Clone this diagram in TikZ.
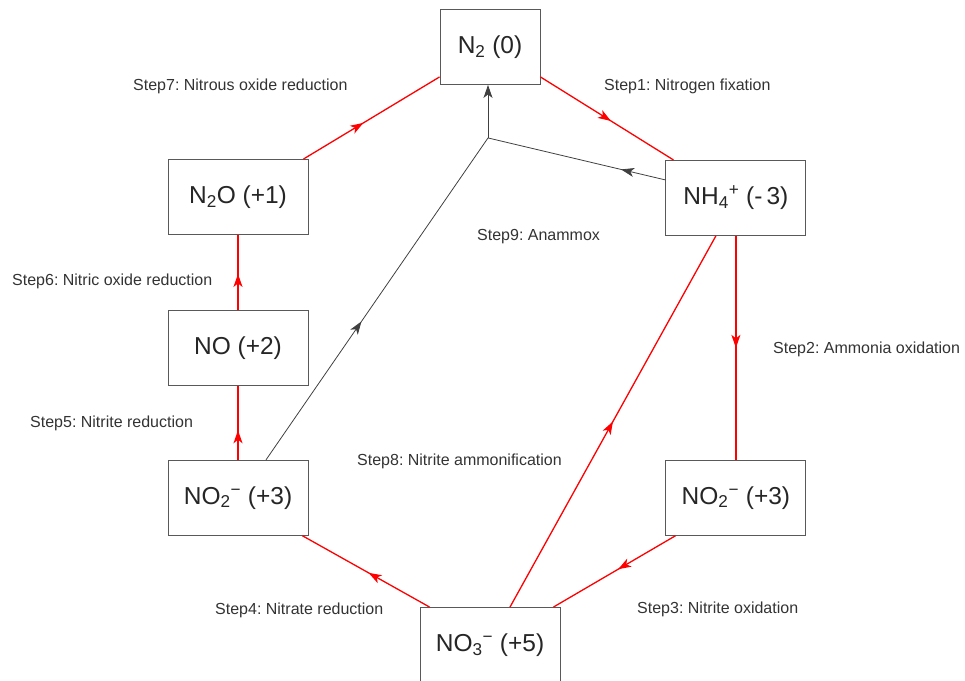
\documentclass[tikz,border=0pt]{standalone}
\usepackage{fontspec}
\setmainfont{Liberation Sans}
\usepackage{tikz}
\usetikzlibrary{positioning}
\usetikzlibrary{arrows,arrows.meta}
\usetikzlibrary{decorations,decorations.markings}
\usetikzlibrary{calc}
\frenchspacing
\tikzstyle{species} = [draw=black!65, fill=white, rectangle, line width=0.9pt, minimum height=75pt, minimum width=140pt, font=\fontsize{24.5}{28}\selectfont, text=black!85]
\tikzstyle{steplabel} = [anchor=west, inner sep=0pt, font=\fontsize{16}{18}\selectfont, text=black!80]
\tikzstyle{redflow} = [draw=red, line width=1.3pt]
\tikzstyle{greyflow} = [draw=black!75, line width=0.8pt]
\tikzstyle{coord} = [coordinate]
\tikzset{arrowat/.style={postaction={decorate,decoration={markings,
    mark=at position #1 with {\arrow{Stealth[length=13pt,width=9pt,inset=3.5pt]}}}}}}

\begin{document}
\begin{tikzpicture}[x=1pt, y=1pt, >={Stealth[length=13pt,width=9pt,inset=3.5pt]}]
	\useasboundingbox (0,0) rectangle (965,680);
	\node [species, minimum width=100pt] (n2) at (490,633) {N\textsubscript{2} (0)};
	\node [species] (n2o) at (238,483) {N\textsubscript{2}O (+1)};
	\node [species, below=75pt of n2o] (no) {NO (+2)};
	\node [species, below=74pt of no] (no2l)
		{NO\textsubscript{2}\textsuperscript{−} (+3)};
	\node [species, right=357pt of no2l] (no2r)
		{NO\textsubscript{2}\textsuperscript{−} (+3)};
	\node [species, above=224pt of no2r] (nh4)
		{NH\textsubscript{4}\textsuperscript{+} (-\,3)};
	\node [species] (no3) at (490,35) {NO\textsubscript{3}\textsuperscript{−} (+5)};
	\node [coord] (jn) at ($(n2.south)+(-2,-53)$) {};

	\node [steplabel] (s7) at (133,594) {Step7: Nitrous oxide reduction};
	\node [steplabel] (s1) at (604,594) {Step1: Nitrogen fixation};
	\node [steplabel] (s9) at (477,443) {Step9: Anammox};
	\node [steplabel] (s6) at (12,399) {Step6: Nitric oxide reduction};
	\node [steplabel] (s2) at (773,331) {Step2: Ammonia oxidation};
	\node [steplabel] (s5) at (30,257) {Step5: Nitrite reduction};
	\node [steplabel] (s8) at (357,219) {Step8: Nitrite ammonification};
	\node [steplabel] (s4) at (215,70) {Step4: Nitrate reduction};
	\node [steplabel] (s3) at (637,71) {Step3: Nitrite oxidation};

	% red: nitrogen cycle steps
	\draw [redflow, arrowat=0.53] ($(n2.south east)+(0,8)$) -- ($(nh4.north west)+(8,0)$);
	\draw [redflow, arrowat=0.5] (nh4.south) -- (no2r.north);
	\draw [redflow, arrowat=0.47] ($(no2r.south west)+(10,0)$) -- ($(no3.north east)+(-7,0)$);
	\draw [redflow, arrowat=0.48] ($(no3.north west)+(10,0)$) -- ($(no2l.south east)+(-6,0)$);
	\draw [redflow, arrowat=0.4] (no2l.north) -- (no.south);
	\draw [redflow, arrowat=0.48] (no.north) -- (n2o.south);
	\draw [redflow, arrowat=0.44] ($(n2o.north east)+(-5,0)$) -- ($(n2.south west)+(0,8)$);
	\draw [redflow, arrowat=0.5] ($(no3.north)+(20,0)$) -- ($(nh4.south)+(-20,0)$);

	% anammox
	\draw [greyflow, arrowat=0.25] ($(nh4.north west)+(0,-20)$) -- (jn);
	\draw [greyflow, arrowat=0.43] ($(no2l.north)+(28,0)$) -- (jn);
	\draw [greyflow, ->] (jn) -- (jn |- n2.south);
\end{tikzpicture}
\end{document}
